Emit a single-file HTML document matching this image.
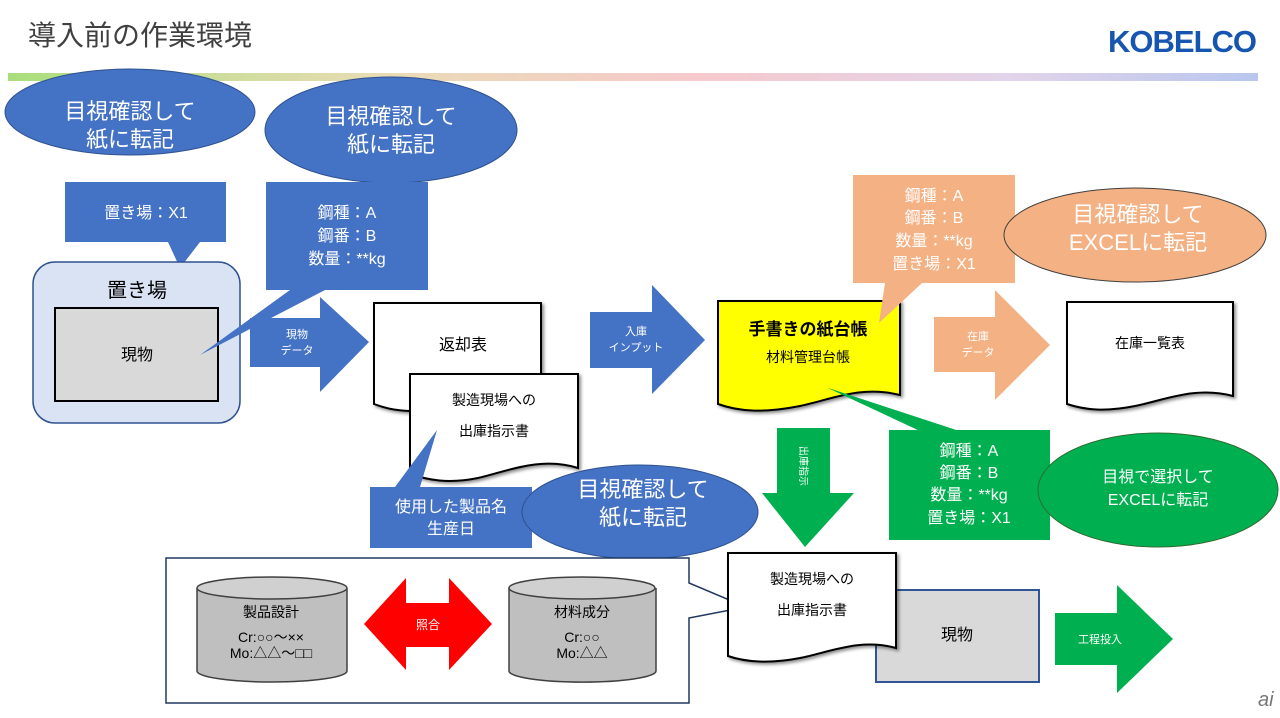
<!DOCTYPE html>
<html><head><meta charset="utf-8"><style>
html,body{margin:0;padding:0;background:#fff;}
svg{display:block;font-family:"Liberation Sans","Noto Sans CJK JP",sans-serif;}
</style></head><body>
<svg width="1280" height="718" viewBox="0 0 1280 718" xmlns="http://www.w3.org/2000/svg">
<defs>
<linearGradient id="bar" x1="0" x2="1" y1="0" y2="0">
<stop offset="0" stop-color="#a9de7c"/><stop offset="0.3" stop-color="#e9dcb4"/><stop offset="0.55" stop-color="#f6c9cc"/><stop offset="0.8" stop-color="#e2d4ea"/><stop offset="1" stop-color="#b8c6ee"/>
</linearGradient>
<filter id="sh" x="-10%" y="-10%" width="130%" height="130%"><feDropShadow dx="2" dy="2" stdDeviation="1.5" flood-color="#000" flood-opacity="0.45"/></filter>
</defs>
<text x="28" y="45" font-size="28" fill="#404040">導入前の作業環境</text>
<text x="1108" y="52" font-size="31" font-weight="bold" fill="#1756b0" letter-spacing="-1">KOBELCO</text>
<rect x="8" y="73" width="1250" height="8" fill="url(#bar)"/>

<!-- Top-left ellipse + callout -->
<ellipse cx="130" cy="112" rx="125" ry="43" fill="#4472c4" stroke="#2f528f"/>
<text x="130" y="119" font-size="22" fill="#fff" text-anchor="middle">目視確認して</text>
<text x="130" y="147" font-size="22" fill="#fff" text-anchor="middle">紙に転記</text>
<path d="M65,182 H226 V242 H200 L180,268 L168,242 H65 Z" fill="#4472c4"/>
<text x="146" y="218" font-size="16" fill="#fff" text-anchor="middle">置き場：X1</text>

<ellipse cx="391" cy="130" rx="126" ry="53" fill="#4472c4" stroke="#2f528f"/>
<text x="391" y="124" font-size="22" fill="#fff" text-anchor="middle">目視確認して</text>
<text x="391" y="152" font-size="22" fill="#fff" text-anchor="middle">紙に転記</text>

<!-- 置き場 -->
<rect x="33" y="262" width="207" height="161" rx="22" fill="#dae3f3" stroke="#2f528f" stroke-width="1.5"/>
<text x="137" y="297" font-size="20" fill="#000" text-anchor="middle">置き場</text>
<rect x="55" y="308" width="163" height="93" fill="#d9d9d9" stroke="#000" stroke-width="2"/>
<text x="137" y="360" font-size="16" text-anchor="middle">現物</text>

<path d="M266,182 H428 V290 H325 L200,355 L290,290 H266 Z" fill="#4472c4"/>
<text x="347" y="218" font-size="16" fill="#fff" text-anchor="middle">鋼種：A</text>
<text x="347" y="241" font-size="16" fill="#fff" text-anchor="middle">鋼番：B</text>
<text x="347" y="264" font-size="16" fill="#fff" text-anchor="middle">数量：**kg</text>

<!-- arrow 現物データ -->
<path d="M250,318 H320 V297 L369,342 L320,392 V367 H250 Z" fill="#4472c4"/>
<text x="297" y="338" font-size="11" fill="#fff" text-anchor="middle">現物</text>
<text x="297" y="354" font-size="11" fill="#fff" text-anchor="middle">データ</text>

<!-- 返却表 -->
<path d="M374,303 H541 V397 C500,385 470,402 440,408 C410,414 390,410 374,404 Z" fill="#fff" stroke="#000" stroke-width="2" filter="url(#sh)"/>
<text x="463" y="350" font-size="16" text-anchor="middle">返却表</text>
<path d="M410,374 H578 V468 C540,456 505,472 478,478 C448,484 428,480 410,474 Z" fill="#fff" stroke="#000" stroke-width="2" filter="url(#sh)"/>
<text x="494" y="405" font-size="14" text-anchor="middle">製造現場への</text>
<text x="494" y="436" font-size="14" text-anchor="middle">出庫指示書</text>

<path d="M370,487 H395 L437,430 L420,487 H532 V548 H370 Z" fill="#4472c4"/>
<text x="451" y="512" font-size="16" fill="#fff" text-anchor="middle">使用した製品名</text>
<text x="451" y="534" font-size="16" fill="#fff" text-anchor="middle">生産日</text>
<ellipse cx="640" cy="512" rx="118" ry="47" fill="#4472c4" stroke="#2f528f"/>
<text x="643" y="497" font-size="22" fill="#fff" text-anchor="middle">目視確認して</text>
<text x="643" y="525" font-size="22" fill="#fff" text-anchor="middle">紙に転記</text>

<!-- 入庫インプット -->
<path d="M590,312 H652 V285 L705,340 L652,394 V368 H590 Z" fill="#4472c4"/>
<text x="636" y="335" font-size="11" fill="#fff" text-anchor="middle">入庫</text>
<text x="636" y="351" font-size="11" fill="#fff" text-anchor="middle">インプット</text>

<!-- Yellow doc -->
<path d="M718,301 H900 V395 C860,385 830,400 800,406 C765,413 740,412 718,404 Z" fill="#ffff00" stroke="#000" stroke-width="2" filter="url(#sh)"/>
<text x="808" y="335" font-size="17" font-weight="bold" text-anchor="middle">手書きの紙台帳</text>
<text x="808" y="362" font-size="14" text-anchor="middle">材料管理台帳</text>

<!-- Orange -->
<path d="M853,175 H1015 V283 H922 L879,323 L885,283 H853 Z" fill="#f4b183"/>
<text x="934" y="201" font-size="16" fill="#fff" text-anchor="middle">鋼種：A</text>
<text x="934" y="223" font-size="16" fill="#fff" text-anchor="middle">鋼番：B</text>
<text x="934" y="246" font-size="16" fill="#fff" text-anchor="middle">数量：**kg</text>
<text x="934" y="269" font-size="16" fill="#fff" text-anchor="middle">置き場：X1</text>
<ellipse cx="1135" cy="235" rx="131" ry="47" fill="#f4b183" stroke="#404040" stroke-width="1"/>
<text x="1138" y="222" font-size="22" fill="#fff" text-anchor="middle">目視確認して</text>
<text x="1138" y="250" font-size="22" fill="#fff" text-anchor="middle">EXCELに転記</text>
<path d="M934,317 H995 V290 L1050,345 L995,400 V372 H934 Z" fill="#f4b183"/>
<text x="978" y="340" font-size="11" fill="#fff" text-anchor="middle">在庫</text>
<text x="978" y="356" font-size="11" fill="#fff" text-anchor="middle">データ</text>

<path d="M1067,302 H1233 V396 C1195,386 1165,400 1135,406 C1105,412 1085,410 1067,404 Z" fill="#fff" stroke="#000" stroke-width="2" filter="url(#sh)"/>
<text x="1150" y="348" font-size="14" text-anchor="middle">在庫一覧表</text>

<!-- Green -->
<path d="M918,430 L828,388 L956,430 H1050 V540 H889 V430 Z" fill="#00b050"/>
<path d="M889,430 H918 L828,388 L956,430 H1050 V540 H889 Z" fill="#00b050"/>
<text x="969" y="456" font-size="16" fill="#fff" text-anchor="middle">鋼種：A</text>
<text x="969" y="478" font-size="16" fill="#fff" text-anchor="middle">鋼番：B</text>
<text x="969" y="500" font-size="16" fill="#fff" text-anchor="middle">数量：**kg</text>
<text x="969" y="523" font-size="16" fill="#fff" text-anchor="middle">置き場：X1</text>
<ellipse cx="1158" cy="490" rx="120" ry="57" fill="#00b050" stroke="#2e6b30" stroke-width="1"/>
<text x="1158" y="482" font-size="16" fill="#fff" text-anchor="middle">目視で選択して</text>
<text x="1158" y="505" font-size="16" fill="#fff" text-anchor="middle">EXCELに転記</text>
<path d="M777,428 H830 V493 H854 L805,547 L762,493 H777 Z" fill="#00b050"/>
<text x="0" y="0" font-size="10" fill="#fff" transform="translate(800,446) rotate(90)">出庫指示</text>

<!-- bottom box -->
<path d="M166,558 H689 V583 L746,607 L689,618 V703 H166 Z" fill="#fff" stroke="#203864" stroke-width="1.5"/>
<path d="M197,588 V671 A75,11 0 0 0 347,671 V588" fill="#bfbfbf" stroke="#404040" stroke-width="1.5"/>
<ellipse cx="272" cy="588" rx="75" ry="11" fill="#d0d0d0" stroke="#404040" stroke-width="1.5"/>
<text x="271" y="617" font-size="14" text-anchor="middle">製品設計</text>
<text x="271" y="642" font-size="14" text-anchor="middle">Cr:○○～××</text>
<text x="271" y="658" font-size="14" text-anchor="middle">Mo:△△～□□</text>
<path d="M364,624 L406,578 V603 H449 V578 L492,624 L449,670 V647 H406 V670 Z" fill="#ff0000"/>
<text x="428" y="629" font-size="12" fill="#fff" text-anchor="middle">照合</text>
<path d="M509,588 V671 A73,11 0 0 0 656,671 V588" fill="#bfbfbf" stroke="#404040" stroke-width="1.5"/>
<ellipse cx="582" cy="588" rx="73" ry="11" fill="#d0d0d0" stroke="#404040" stroke-width="1.5"/>
<text x="582" y="617" font-size="14" text-anchor="middle">材料成分</text>
<text x="582" y="642" font-size="14" text-anchor="middle">Cr:○○</text>
<text x="582" y="658" font-size="14" text-anchor="middle">Mo:△△</text>

<rect x="876" y="590" width="163" height="92" fill="#d9d9d9" stroke="#2f5597" stroke-width="2"/>
<text x="957" y="640" font-size="16" text-anchor="middle">現物</text>
<path d="M728,553 H896 V648 C860,638 830,652 800,658 C770,664 745,662 728,656 Z" fill="#fff" stroke="#000" stroke-width="2" filter="url(#sh)"/>
<text x="812" y="584" font-size="14" text-anchor="middle">製造現場への</text>
<text x="812" y="615" font-size="14" text-anchor="middle">出庫指示書</text>

<path d="M1055,613 H1117 V585 L1173,639 L1117,693 V665 H1055 Z" fill="#00b050"/>
<text x="1100" y="643" font-size="11" fill="#fff" text-anchor="middle">工程投入</text>
<text x="1258" y="706" font-size="20" font-style="italic" fill="#777">ai</text>
</svg>
</body></html>
